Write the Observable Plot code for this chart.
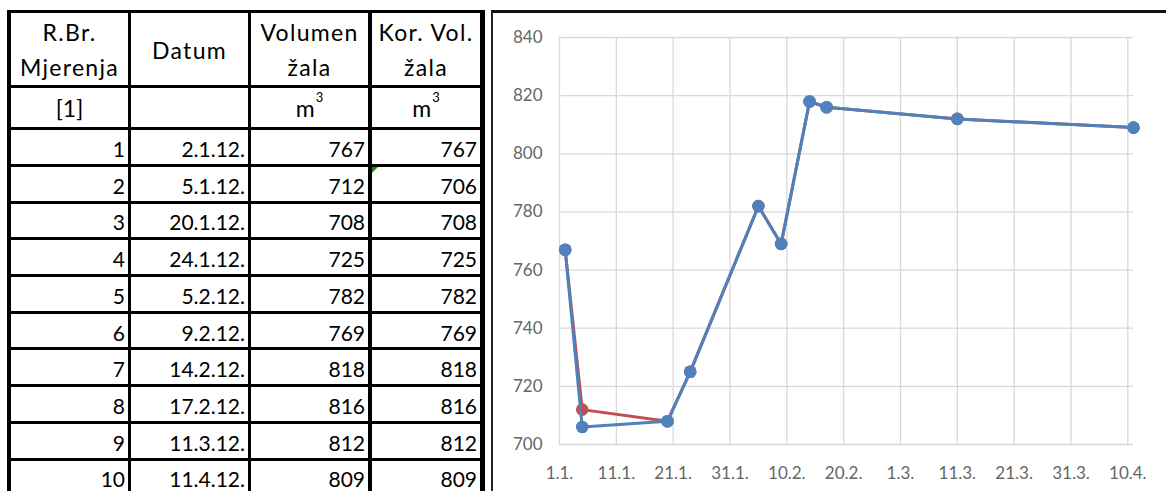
<!DOCTYPE html>
<html><head><meta charset="utf-8">
<script src="https://cdn.jsdelivr.net/npm/d3@7"></script>
<script src="https://cdn.jsdelivr.net/npm/@observablehq/plot@0.6"></script>
<style>
html,body{margin:0;padding:0;background:#fff;}
body{width:1166px;height:491px;overflow:hidden;position:relative;font-family:Lato,"Open Sans",sans-serif;}
.ln{position:absolute;background:#000;}
.cell{position:absolute;display:flex;align-items:center;box-sizing:border-box;color:#000;white-space:nowrap;}
.hdr{justify-content:center;text-align:center;font-size:23px;letter-spacing:1.3px;line-height:35px;}
.num{justify-content:flex-end;font-size:21px;padding-right:3px;padding-top:3px;}
sup{font-size:13px;vertical-align:0;position:relative;top:-11px;margin-left:1px;}
#chart{position:absolute;left:491px;top:10px;width:675px;height:481px;border-left:2px solid #222;border-top:3px solid #111;}
#chart svg{display:block;}
.tri{position:absolute;width:0;height:0;border-top:6px solid #1a8a1a;border-right:6px solid transparent;}
</style></head><body>
<div id="table"></div>
<div id="chart"></div>
<script>
// ---- data ----
const measurementNo = [1, 2, 3, 4, 5, 6, 7, 8, 9, 10];
const measurementDates = ["2012-01-02", "2012-01-05", "2012-01-20", "2012-01-24", "2012-02-05",
                          "2012-02-09", "2012-02-14", "2012-02-17", "2012-03-11", "2012-04-11"];
const volumen = [767, 712, 708, 725, 782, 769, 818, 816, 812, 809];
const korVolumen = [767, 706, 708, 725, 782, 769, 818, 816, 812, 809];
const headerLines = [["R.Br.", "Mjerenja"], ["Datum"], ["Volumen", "žala"], ["Kor. Vol.", "žala"]];
const headerUnits = ["[1]", "", "m^3", "m^3"];
const xTickDates = ["2012-01-01", "2012-01-11", "2012-01-21", "2012-01-31", "2012-02-10", "2012-02-20",
                    "2012-03-01", "2012-03-11", "2012-03-21", "2012-03-31", "2012-04-10"];
const yTicks = [700, 720, 740, 760, 780, 800, 820, 840];
const xDomain = ["2012-01-01", "2012-04-11"];

const parse = d3.utcParse("%Y-%m-%d");
const fmtTable = d3.utcFormat("%-d.%-m.%y.");
const fmtTick = d3.utcFormat("%-d.%-m.");

// ---- table ----
const tbl = document.getElementById("table");
function add(cls, style, html) {
  const d = document.createElement("div");
  d.className = cls;
  Object.assign(d.style, style);
  if (html !== undefined) d.innerHTML = html;
  tbl.appendChild(d);
  return d;
}
const vLines = [{x: 7, w: 4}, {x: 128, w: 3}, {x: 248, w: 3}, {x: 368, w: 4}, {x: 480, w: 5}];
const rowPitch = 36.7, dataBase = 127.2;
const hLines = [{y: 10, h: 3}, {y: 85, h: 3}, {y: 127, h: 3}];
for (let i = 1; i <= measurementNo.length; i++) hLines.push({y: dataBase + rowPitch * i, h: 3});
vLines.forEach(v => add("ln", {left: v.x + "px", top: "10px", width: v.w + "px", height: "490px"}));
hLines.forEach(h => add("ln", {left: "7px", top: h.y + "px", width: "478px", height: h.h + "px"}));

const colL = vLines.slice(0, 4).map(v => v.x + v.w);
const colR = vLines.slice(1).map(v => v.x);
// header row 1
headerLines.forEach((lines, c) => {
  add("cell hdr", {left: colL[c] + "px", top: "15px", width: (colR[c] - colL[c]) + "px", height: "70px"},
      lines.join("<br>"));
});
// header row 2 (units)
headerUnits.forEach((u, c) => {
  const html = u.endsWith("^3") ? u.slice(0, -2) + "<sup>3</sup>" : u;
  add("cell hdr", {left: colL[c] + "px", top: "90px", width: (colR[c] - colL[c]) + "px", height: "37px", letterSpacing: "0px"}, html);
});
// data rows
measurementNo.forEach((n, i) => {
  const top = dataBase + rowPitch * i + 3;
  const vals = [n, fmtTable(parse(measurementDates[i])), volumen[i], korVolumen[i]];
  vals.forEach((v, c) => {
    add("cell num", {left: colL[c] + "px", top: top + "px", width: (colR[c] - colL[c]) + "px", height: (rowPitch - 3) + "px"}, String(v));
  });
});
// comment indicator in Kor. Vol. cell of row 2
add("tri", {left: colL[3] + "px", top: (dataBase + rowPitch + 3) + "px"});

// ---- chart ----
const rows = measurementDates.map((d, i) => ({date: parse(d), vol: volumen[i], kor: korVolumen[i]}));
const xTicks = xTickDates.map(parse);
const blue = "#4F81BD", red = "#C0504D", grid = "#d9d9d9", txt = "#666666";

const chart = Plot.plot({
  width: 673,
  height: 478,
  marginLeft: 66,
  marginRight: 33,
  marginTop: 24,
  marginBottom: 47,
  style: {fontFamily: "Lato, 'Open Sans', sans-serif", fontSize: "17px", background: "#fff"},
  x: {type: "utc", domain: xDomain.map(parse)},
  y: {domain: [700, 840]},
  marks: [
    Plot.gridX(xTicks, {stroke: grid, strokeOpacity: 1, strokeWidth: 1.3}),
    Plot.gridY(yTicks, {stroke: grid, strokeOpacity: 1, strokeWidth: 1.3}),
    Plot.axisX(xTicks, {tickSize: 0, tickPadding: 22, tickFormat: fmtTick, fill: txt, fontSize: 17}),
    Plot.axisY(yTicks, {tickSize: 0, tickPadding: 17, fill: txt, fontSize: 17}),
    Plot.line(rows, {x: "date", y: "vol", stroke: red, strokeWidth: 3}),
    Plot.dot(rows, {x: "date", y: "vol", r: 6.3, fill: red}),
    Plot.line(rows, {x: "date", y: "kor", stroke: blue, strokeWidth: 3}),
    Plot.dot(rows, {x: "date", y: "kor", r: 6.3, fill: blue})
  ]
});
document.getElementById("chart").appendChild(chart);
</script>
</body></html>
